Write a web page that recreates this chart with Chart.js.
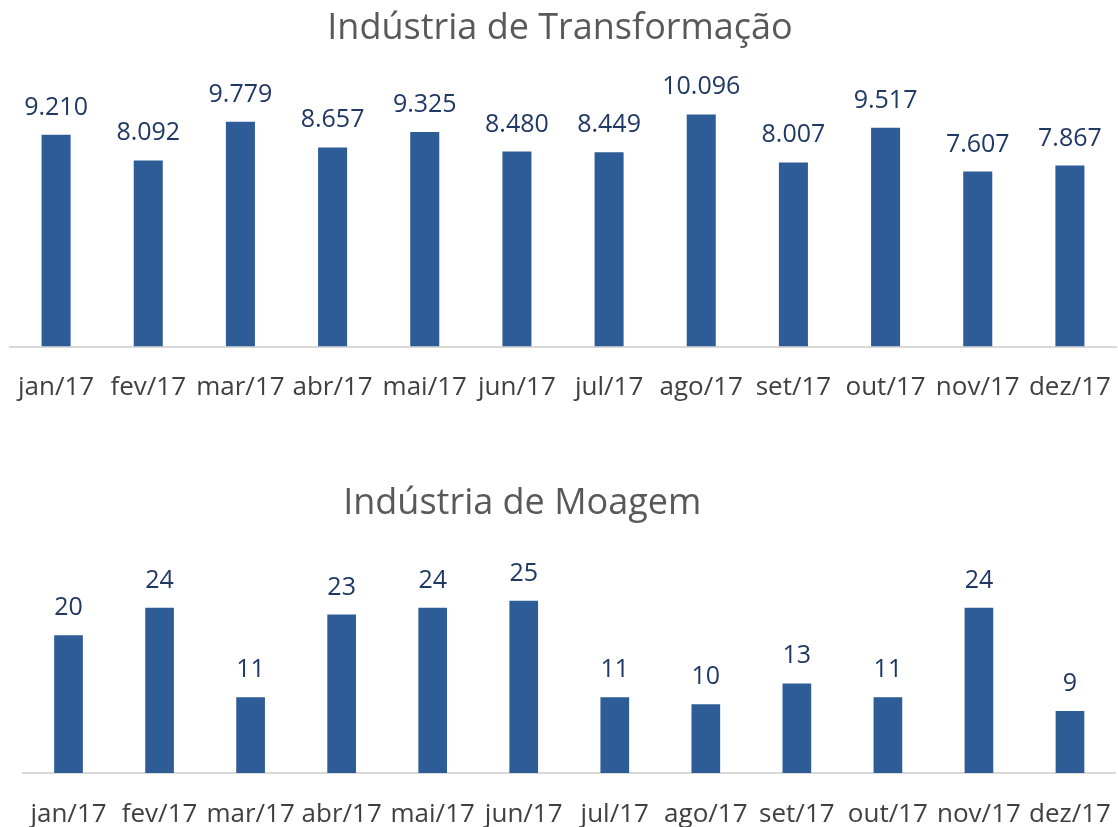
<!DOCTYPE html>
<html>
<head>
<meta charset="utf-8">
<script src="https://cdn.jsdelivr.net/npm/chart.js@4.4.1/dist/chart.umd.min.js"></script>
<style>
  html, body { margin: 0; padding: 0; background: #ffffff; overflow: hidden; }
  .box { position: absolute; left: 0; width: 1118px; }
  #box1 { top: 0; height: 420px; }
  #box2 { top: 450px; height: 377px; }
</style>
</head>
<body>
<div class="box" id="box1"><canvas id="chart1"></canvas></div>
<div class="box" id="box2"><canvas id="chart2"></canvas></div>
<script>
const months = ["jan/17", "fev/17", "mar/17", "abr/17", "mai/17", "jun/17",
                "jul/17", "ago/17", "set/17", "out/17", "nov/17", "dez/17"];
const transformacao = [9210, 8092, 9779, 8657, 9325, 8480, 8449, 10096, 8007, 9517, 7607, 7867];
const moagem = [20, 24, 11, 23, 24, 25, 11, 10, 13, 11, 24, 9];

const barColor = "#2E5C96";
const labelColor = "#1F3864";
const tickColor = "#404040";
const titleColor = "#595959";
const fontFamily = "'Open Sans', 'DejaVu Sans', sans-serif";

// pt-BR style thousands separator
function fmt(v) {
  return String(v).replace(/\B(?=(\d{3})+(?!\d))/g, ".");
}

// draw value labels above each bar
const valueLabels = {
  id: "valueLabels",
  afterDatasetsDraw(chart) {
    const ctx = chart.ctx;
    const meta = chart.getDatasetMeta(0);
    const data = chart.data.datasets[0].data;
    ctx.save();
    ctx.font = "25px " + fontFamily;
    ctx.fillStyle = labelColor;
    ctx.textAlign = "center";
    ctx.textBaseline = "alphabetic";
    meta.data.forEach((bar, i) => {
      ctx.fillText(fmt(data[i]), bar.x, bar.y - 20);
    });
    ctx.restore();
  }
};

// nudge the title sideways (the second title sits left of centre)
const titleShift = {
  id: "titleShift",
  afterLayout(chart, args, opts) {
    const t = chart.titleBlock;
    if (!t || !opts.dx) return;
    t.left += opts.dx;
    t.right += opts.dx;
  }
};

function makeChart(canvasId, title, values, yMax, opts) {
  const ctx = document.getElementById(canvasId).getContext("2d");
  return new Chart(ctx, {
    type: "bar",
    data: {
      labels: months,
      datasets: [{
        data: values,
        backgroundColor: barColor,
        borderWidth: 0,
        categoryPercentage: 1.0,
        barPercentage: 0.315,
      }],
    },
    options: {
      responsive: true,
      maintainAspectRatio: false,
      animation: false,
      layout: { padding: opts.padding },
      scales: {
        x: {
          grid: { display: true, drawOnChartArea: false, drawTicks: false, color: "rgba(0,0,0,0)" },
          border: { display: true, color: "#D9D9D9", width: 2 },
          ticks: {
            color: tickColor,
            font: { family: fontFamily, size: 26 },
            padding: opts.tickPad,
            autoSkip: false,
            maxRotation: 0,
            minRotation: 0,
          },
          // keep the plot area where the reference has it
          afterFit(scale) {
            scale.paddingLeft = 0;
            scale.paddingRight = 0;
            scale.height = opts.axisHeight;
          },
        },
        y: {
          display: false,
          min: 0,
          max: yMax,
        },
      },
      plugins: {
        legend: { display: false },
        tooltip: { enabled: false },
        title: {
          display: true,
          text: title,
          color: titleColor,
          font: { family: fontFamily, size: 36, weight: "normal", lineHeight: 1.2 },
          padding: opts.titlePad,
        },
        titleShift: { dx: opts.titleDx },
      },
    },
    plugins: [valueLabels, titleShift],
  });
}

makeChart("chart1", "Indústria de Transformação", transformacao, 12000, {
  padding: { left: 10, right: 2, top: 0, bottom: 0 },
  tickPad: 25,
  axisHeight: 73.5,
  titlePad: { top: 7, bottom: 20.4 },
  titleDx: -3,
});

makeChart("chart2", "Indústria de Moagem", moagem, 30, {
  padding: { left: 23, right: 2.5, top: 0, bottom: 0 },
  tickPad: 26,
  axisHeight: 54,
  titlePad: { top: 32, bottom: 41.2 },
  titleDx: -47,
});
</script>
</body>
</html>
